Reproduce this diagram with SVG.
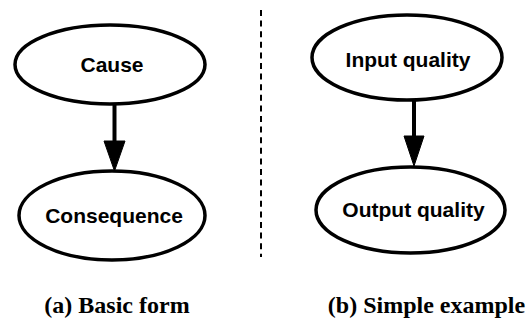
<svg xmlns="http://www.w3.org/2000/svg" width="530" height="320" viewBox="0 0 530 320">
<defs>
<style>
.node ellipse{fill:#fff;stroke:#000;stroke-width:3.5}
.node text{font-family:"Liberation Sans",Arial,sans-serif;font-weight:bold;font-size:21px;text-anchor:middle;fill:#000}
.edge line{stroke:#000;stroke-width:4}
.edge polygon{fill:#000;stroke:#000;stroke-width:1}
.cap{font-family:"Liberation Serif","Times New Roman",serif;font-weight:bold;font-size:24px;text-anchor:middle;fill:#000}
.sep{stroke:#000;stroke-width:2;stroke-dasharray:6 4.6}
</style>
</defs>
<rect width="530" height="320" fill="#fff"/>
<line class="sep" x1="261" y1="10" x2="261" y2="257"/>
<g id="connectors" class="edge">
<line x1="114.5" y1="105" x2="114.5" y2="142"/>
<polygon points="104,141 125,141 114.5,171"/>
<line x1="414" y1="101" x2="414" y2="137"/>
<polygon points="404,136 424,136 414,166"/>
</g>
<g id="node-cause" class="node">
<ellipse cx="110" cy="64.5" rx="95" ry="39.5"/>
<text x="112" y="72">Cause</text>
</g>
<g id="node-consequence" class="node">
<ellipse cx="112" cy="215.5" rx="93" ry="44.5"/>
<text x="114" y="223">Consequence</text>
</g>
<g id="node-input" class="node">
<ellipse cx="407" cy="57.5" rx="95" ry="42.5"/>
<text x="408" y="67">Input quality</text>
</g>
<g id="node-output" class="node">
<ellipse cx="410.5" cy="210" rx="94.5" ry="43"/>
<text x="413.5" y="217">Output quality</text>
</g>
<text class="cap" x="117" y="313">(a) Basic form</text>
<text class="cap" x="426.5" y="313">(b) Simple example</text>
</svg>
